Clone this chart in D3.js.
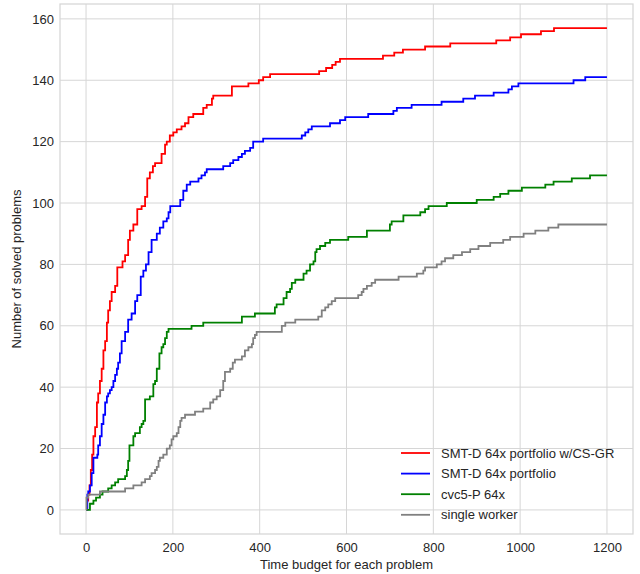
<!DOCTYPE html>
<html>
<head>
<meta charset="utf-8">
<script src="https://cdn.jsdelivr.net/npm/d3@7"></script>
<style>
  body { margin: 0; background: #fff; }
  text { font-family: "Liberation Sans", Arial, sans-serif; }
</style>
</head>
<body>
<div id="chart"></div>
<script>
// step points [time, solved]
var csgr = [[0,0],[2,3],[5,5],[8,8],[11,13],[14,18],[17,24],[21,27],[25,35],[28,38],[32,42],[36,46],[40,52],[44,55],[48,61],[51,65],[55,68],[59,71],[67,73],[72,79],[84,81],[90,83],[97,88],[101,91],[109,93],[118,98],[128,99],[136,102],[141,108],[147,110],[154,112],[159,113],[174,116],[182,119],[186,120],[193,122],[201,123],[209,124],[220,125],[228,126],[236,128],[247,129],[270,131],[278,132],[290,134],[293,135],[336,138],[374,139],[398,140],[408,141],[424,142],[537,143],[553,144],[567,145],[575,146],[585,147],[684,148],[710,149],[730,150],[781,151],[839,152],[945,153],[977,154],[1002,155],[1048,156],[1078,157],[1200,157]];
var portfolio = [[0,0],[3,5],[5,6],[9,8],[13,12],[17,17],[26,18],[28,21],[32,24],[36,28],[40,31],[44,35],[48,37],[51,38],[55,39],[59,40],[63,42],[67,44],[71,46],[74,48],[78,51],[82,55],[90,58],[97,62],[105,64],[113,68],[118,70],[126,76],[132,78],[138,80],[144,84],[151,88],[163,90],[170,92],[178,94],[186,95],[190,97],[194,99],[217,101],[224,104],[232,106],[240,107],[259,108],[266,109],[274,110],[278,111],[316,112],[332,113],[339,114],[351,115],[359,116],[366,117],[378,118],[385,120],[408,121],[497,122],[505,123],[512,124],[520,125],[562,126],[585,127],[597,128],[650,129],[708,130],[716,131],[750,132],[819,133],[869,134],[896,135],[939,136],[973,137],[981,138],[996,139],[1123,140],[1150,141],[1200,141]];
var cvc5 = [[0,0],[9,2],[17,3],[23,4],[32,5],[38,6],[51,7],[59,8],[67,9],[74,10],[90,11],[94,13],[97,16],[100,21],[109,24],[113,25],[124,27],[128,28],[132,29],[136,36],[147,37],[155,41],[159,42],[163,46],[169,51],[174,53],[178,54],[182,56],[186,58],[190,59],[243,60],[270,61],[359,63],[389,64],[435,66],[439,67],[455,69],[462,71],[470,72],[474,74],[482,75],[501,77],[508,78],[516,80],[524,81],[528,84],[531,85],[539,86],[551,87],[562,88],[604,89],[647,91],[700,93],[704,94],[731,96],[770,97],[781,98],[789,99],[831,100],[900,101],[939,102],[954,103],[973,104],[1004,105],[1058,106],[1077,107],[1119,108],[1161,109],[1200,109]];
var single = [[0,0],[1,4],[5,5],[32,6],[90,7],[109,8],[128,9],[136,10],[147,11],[151,12],[159,13],[163,14],[167,16],[170,17],[178,18],[186,20],[193,21],[197,23],[201,24],[209,25],[213,27],[217,29],[220,30],[228,31],[251,32],[270,33],[286,35],[293,36],[301,37],[309,39],[316,42],[320,45],[332,46],[338,48],[343,49],[359,50],[366,52],[374,53],[382,54],[385,56],[389,57],[393,58],[451,60],[459,61],[482,62],[535,63],[543,65],[551,66],[558,67],[566,68],[574,69],[627,70],[635,71],[639,72],[647,73],[658,74],[666,75],[720,76],[762,77],[777,78],[781,79],[808,80],[819,81],[827,82],[846,83],[866,84],[885,85],[904,86],[931,87],[961,88],[977,89],[1008,90],[1035,91],[1065,92],[1088,93],[1200,93]];

var seriesNames = ["SMT-D 64x portfolio w/CS-GR", "SMT-D 64x portfolio", "cvc5-P 64x", "single worker"];
var seriesData = [csgr, portfolio, cvc5, single];
var seriesColors = ["#ff0000", "#0000ff", "#008000", "#808080"];

var xTicks = [0, 200, 400, 600, 800, 1000, 1200];
var yTicks = [0, 20, 40, 60, 80, 100, 120, 140, 160];

var W = 640, H = 574;
var L = 60, R = 633, T = 4, B = 534;

var svg = d3.select("#chart").append("svg")
            .attr("width", W)
            .attr("height", H);

var x = d3.scaleLinear().domain([-60, 1260]).range([L, R]);
var y = d3.scaleLinear().domain([-7.85, 164.85]).range([B, T]);

// grid
svg.append("g").selectAll("line")
   .data(xTicks).enter().append("line")
   .attr("x1", function(d) { return x(d); })
   .attr("x2", function(d) { return x(d); })
   .attr("y1", T).attr("y2", B)
   .attr("stroke", "#d6d6d6").attr("stroke-width", 1);
svg.append("g").selectAll("line")
   .data(yTicks).enter().append("line")
   .attr("y1", function(d) { return y(d); })
   .attr("y2", function(d) { return y(d); })
   .attr("x1", L).attr("x2", R)
   .attr("stroke", "#d6d6d6").attr("stroke-width", 1);

// frame
svg.append("rect")
   .attr("x", L).attr("y", T)
   .attr("width", R - L).attr("height", B - T)
   .attr("fill", "none")
   .attr("stroke", "#d6d6d6").attr("stroke-width", 1.25);

// axes (labels only)
var xAxis = svg.append("g")
   .attr("transform", "translate(0," + B + ")")
   .call(d3.axisBottom(x).tickValues(xTicks).tickFormat(d3.format("d")).tickSize(0).tickPadding(9));
var yAxis = svg.append("g")
   .attr("transform", "translate(" + L + ",0)")
   .call(d3.axisLeft(y).tickValues(yTicks).tickFormat(d3.format("d")).tickSize(0).tickPadding(6));
[xAxis, yAxis].forEach(function(a) {
  a.select(".domain").remove();
  a.selectAll("text")
   .style("font-family", "'Liberation Sans', Arial, sans-serif")
   .style("font-size", "13px")
   .attr("fill", "#262626");
});

svg.append("text")
   .attr("x", (L + R) / 2).attr("y", 569)
   .attr("text-anchor", "middle")
   .attr("font-size", 13).attr("fill", "#262626")
   .text("Time budget for each problem");
svg.append("text")
   .attr("transform", "translate(21," + ((T + B) / 2) + ") rotate(-90)")
   .attr("text-anchor", "middle")
   .attr("font-size", 13).attr("fill", "#262626")
   .text("Number of solved problems");

// curves
var line = d3.line()
   .x(function(d) { return x(d[0]); })
   .y(function(d) { return y(d[1]); })
   .curve(d3.curveStepAfter);

svg.append("g").selectAll("path")
   .data(seriesData).enter().append("path")
   .attr("d", line)
   .attr("fill", "none")
   .attr("stroke", function(d, i) { return seriesColors[i]; })
   .attr("stroke-width", 1.8);

// legend
var leg = svg.append("g").selectAll("g")
   .data(seriesNames).enter().append("g")
   .attr("transform", function(d, i) { return "translate(401," + (453 + i * 20.6) + ")"; });
leg.append("line")
   .attr("x1", 0).attr("x2", 29)
   .attr("stroke", function(d, i) { return seriesColors[i]; })
   .attr("stroke-width", 1.8);
leg.append("text")
   .attr("x", 40).attr("dy", "0.35em")
   .attr("font-size", 13).attr("fill", "#262626")
   .text(function(d) { return d; });
</script>
</body>
</html>
